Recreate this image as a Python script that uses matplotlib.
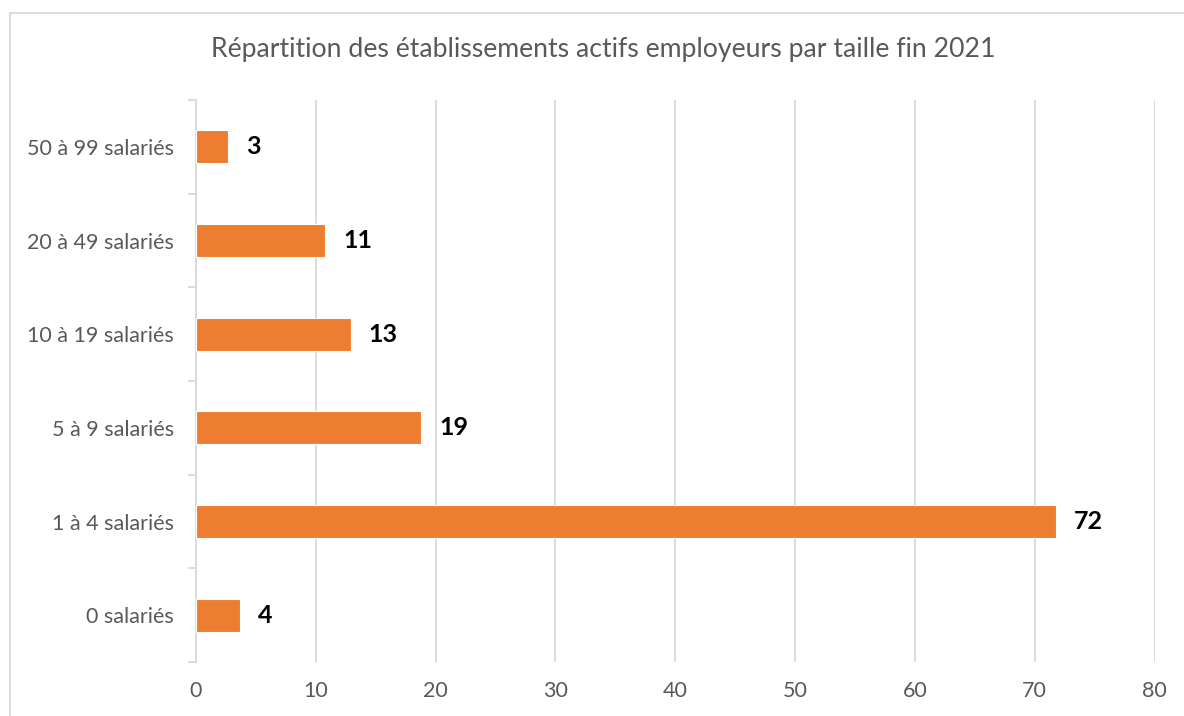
import matplotlib.pyplot as plt
from matplotlib.patches import Rectangle

categories = ['0 salariés', '1 à 4 salariés', '5 à 9 salariés',
              '10 à 19 salariés', '20 à 49 salariés', '50 à 99 salariés']
values = [3.7, 71.8, 18.8, 12.9, 10.8, 2.7]
x_ticks = [0, 10, 20, 30, 40, 50, 60, 70, 80]

plt.rcParams['font.family'] = ['Lato', 'DejaVu Sans']

fig = plt.figure(figsize=(11.84, 7.16), dpi=100)
ax = fig.add_axes([196 / 1184, 1 - 662 / 716, (1154.5 - 196) / 1184, (662 - 100) / 716])

pos = range(len(categories))
ax.barh(pos, values, height=0.35, color='#ED7D31', edgecolor='white',
        linewidth=0.8, zorder=3)

for y, v in zip(pos, values):
    ax.annotate(f'{v:.0f}', (v, y), xytext=(13, 0), textcoords='offset points',
                ha='left', va='center', fontsize=18, fontweight='bold',
                color='black')

ax.set_xlim(0, 80)
ax.set_ylim(-0.5, len(categories) - 0.5)
ax.set_xticks(x_ticks)
ax.set_yticks(list(pos))
ax.set_yticklabels(categories)
ax.set_yticks([i - 0.5 for i in range(len(categories) + 1)], minor=True)

ax.grid(axis='x', color='#D9D9D9', linewidth=1.3, zorder=0)
ax.set_axisbelow(True)
for s in ['top', 'right', 'bottom']:
    ax.spines[s].set_visible(False)
ax.spines['left'].set_color('#D9D9D9')
ax.spines['left'].set_linewidth(1.3)

ax.tick_params(axis='y', which='major', length=0, pad=16, labelsize=15.5,
               labelcolor='#595959')
ax.tick_params(axis='y', which='minor', length=6, width=1.3, color='#D9D9D9')
ax.tick_params(axis='x', length=0, pad=14, labelsize=15.5, labelcolor='#595959')

fig.text(603 / 1184, 1 - 50 / 716,
         'Répartition des établissements actifs employeurs par taille fin 2021',
         ha='center', va='center', fontsize=19.2, color='#595959')

# chart frame
fig.patches.append(Rectangle((10 / 1184, -0.1), 1.2, 1 - 13 / 716 + 0.1,
                             transform=fig.transFigure, fill=False,
                             edgecolor='#D9D9D9', linewidth=1.3))

fig.savefig('out.png', dpi=100, facecolor='white')
